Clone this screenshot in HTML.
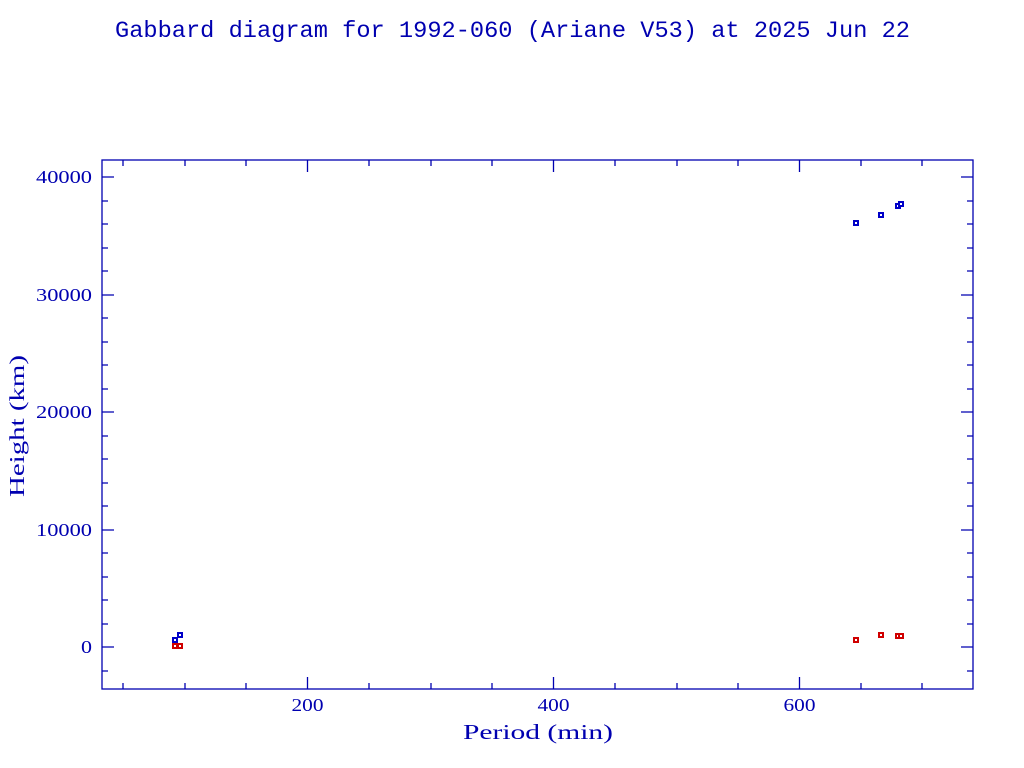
<!DOCTYPE html>
<html><head><style>body{margin:0;background:#fff}svg{display:block}</style></head><body>
<svg width="1024" height="768" xmlns="http://www.w3.org/2000/svg" font-family="'Liberation Serif',serif" fill="#0000b0">
<text x="115" y="37" font-size="23" textLength="795" lengthAdjust="spacingAndGlyphs" font-family="'Liberation Mono',monospace">Gabbard diagram for 1992-060 (Ariane V53) at 2025 Jun 22</text>
<rect x="102" y="160" width="871" height="529" fill="none" stroke="#0000b0" stroke-width="1.3"/>
<g stroke="#0000b0" stroke-width="1.3">
<path d="M123 689v-6M185 689v-6M246 689v-6M369 689v-6M431 689v-6M492 689v-6M615 689v-6M677 689v-6M738 689v-6M861 689v-6M922 689v-6
M123 160v6M185 160v6M246 160v6M369 160v6M431 160v6M492 160v6M615 160v6M677 160v6M738 160v6M861 160v6M922 160v6
M307.5 689v-12M553.5 689v-12M799.5 689v-12M307.5 160v12M553.5 160v12M799.5 160v12"/>
<path d="M102 177h12M102 295h12M102 412h12M102 530h12M102 647h12M973 177h-12M973 295h-12M973 412h-12M973 530h-12M973 647h-12"/>
<path d="M102 671h6M102 624h6M102 600h6M102 577h6M102 553h6M102 506h6M102 483h6M102 459h6M102 436h6M102 389h6M102 365h6M102 342h6M102 318h6M102 271h6M102 248h6M102 224h6M102 201h6
M973 671h-6M973 624h-6M973 600h-6M973 577h-6M973 553h-6M973 506h-6M973 483h-6M973 459h-6M973 436h-6M973 389h-6M973 365h-6M973 342h-6M973 318h-6M973 271h-6M973 248h-6M973 224h-6M973 201h-6"/>
</g>
<g font-size="18">
<text x="36" y="183" textLength="56" lengthAdjust="spacingAndGlyphs">40000</text>
<text x="36" y="301" textLength="56" lengthAdjust="spacingAndGlyphs">30000</text>
<text x="36" y="418" textLength="56" lengthAdjust="spacingAndGlyphs">20000</text>
<text x="36" y="536" textLength="56" lengthAdjust="spacingAndGlyphs">10000</text>
<text x="81" y="653" textLength="11" lengthAdjust="spacingAndGlyphs">0</text>
<text x="291.5" y="711" textLength="32" lengthAdjust="spacingAndGlyphs">200</text>
<text x="537.5" y="711" textLength="32" lengthAdjust="spacingAndGlyphs">400</text>
<text x="783.5" y="711" textLength="32" lengthAdjust="spacingAndGlyphs">600</text>
</g>
<text x="463" y="739" font-size="21" textLength="150" lengthAdjust="spacingAndGlyphs">Period (min)</text>
<text transform="translate(24,497) rotate(-90)" font-size="21" textLength="142" lengthAdjust="spacingAndGlyphs">Height (km)</text>
<g fill="#fff" stroke-width="2">
<g stroke="#0000c8">
<rect x="173" y="638" width="4" height="4"/><rect x="178" y="633" width="4" height="4"/>
<rect x="854" y="221" width="4" height="4"/><rect x="879" y="213" width="4" height="4"/><rect x="896" y="204" width="4" height="4"/><rect x="899" y="202" width="4" height="4"/>
</g>
<g stroke="#d00000">
<rect x="173" y="644" width="4" height="4"/><rect x="178" y="644" width="4" height="4"/>
<rect x="854" y="638" width="4" height="4"/><rect x="879" y="633" width="4" height="4"/><rect x="896" y="634" width="4" height="4"/><rect x="899" y="634" width="4" height="4"/>
</g>
</g>
</svg>
</body></html>
